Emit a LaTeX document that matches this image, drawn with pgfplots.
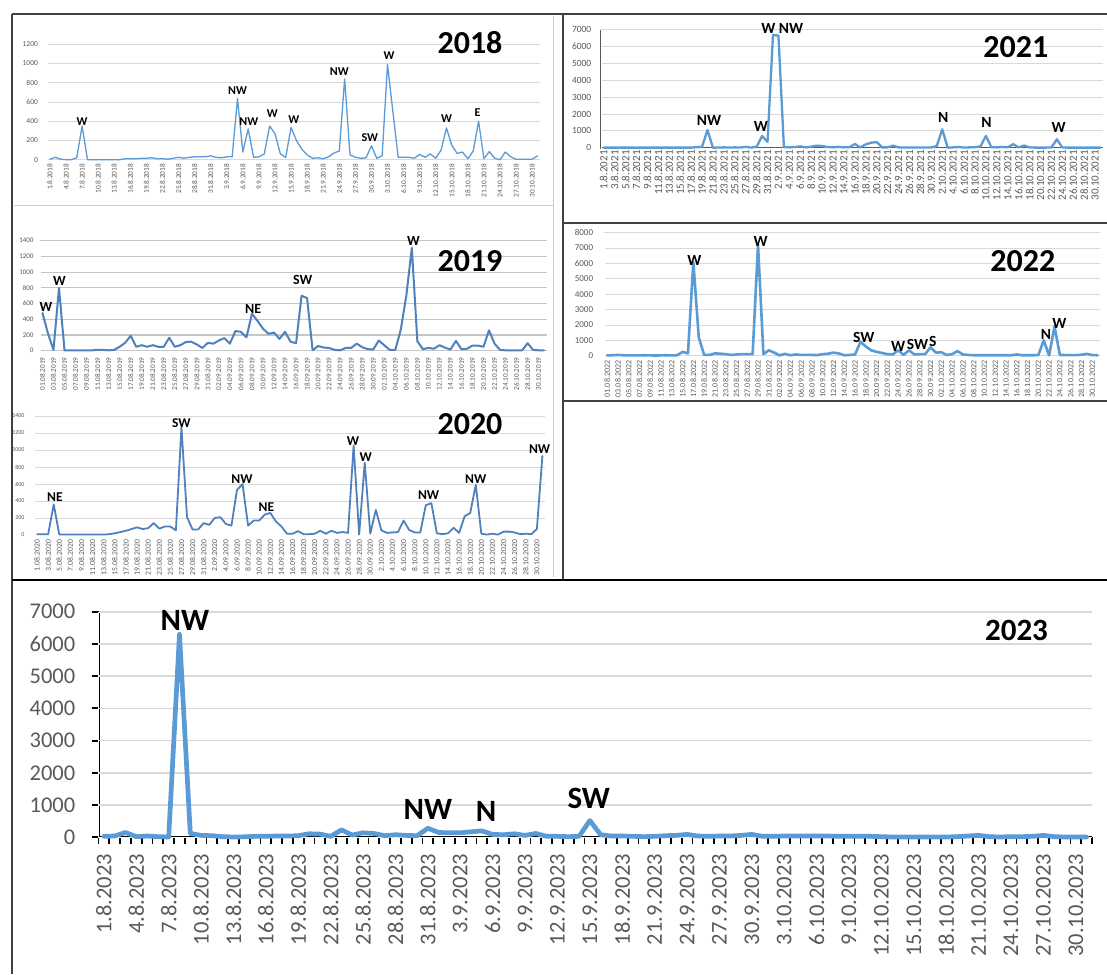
\documentclass[border=0pt]{standalone}
\usepackage{pgfplots}
\pgfplotsset{compat=1.18}
\usepackage{fontspec}
\setmainfont{Carlito}

\definecolor{gridc}{HTML}{D9D9D9}
\definecolor{labc}{HTML}{595959}
\definecolor{exblue}{HTML}{5B9BD5}
\definecolor{exdark}{HTML}{4F81BD}
\definecolor{framec}{HTML}{404040}

\newcommand\fs[1]{\fontsize{#1}{#1}\selectfont}

\pgfplotsset{
  panel/.style={
    scale only axis, clip=false, anchor=south west,
    xmin=-0.5, xmax=91.5, ymin=0,
    axis x line*=bottom, axis y line*=left, separate axis lines,
    axis line style={white, line width=0.1pt, -},
    tick align=outside, major tick length=0.5pt, minor tick length=0.5pt,
    tick style={white, line width=0.1pt},
    ymajorgrids, grid style={draw=gridc, line width=0.9pt},
    scaled y ticks=false,
    /pgf/number format/1000 sep={},
    /pgf/number format/assume math mode=true,
    tick label style={text=labc, inner sep=0pt},
    x tick label style={rotate=90, anchor=east},
    y tick label style={anchor=east},
  },
  % grid without the line at 0, which the dark base line replaces
  nozero/.style={
    ytick={#1}, extra y ticks={0}, extra y tick style={grid=none},
  },
}
\tikzset{
  ser/.style={mark=none, line join=round, line cap=round},
  ann/.style={font=\bfseries\fs{#1}, inner sep=0pt},
}

\begin{document}
\begin{tikzpicture}
\path[use as bounding box, fill=white] (0pt,0pt) rectangle (1107pt,-974pt);

\begin{scope}[x=1pt, y=-1pt]
% panel frames
\draw[gray!40, line width=1pt] (14,205) -- (553,205) (553,16) -- (553,577);
\draw[framec, line width=1.5pt] (12,14) -- (1107,14) (12,14) -- (12,974)
  (563,14) -- (563,580) (563,223) -- (1107,223) (563,401) -- (1107,401);
\draw[black, line width=2.5pt] (12,580) -- (1107,580);
% axis lines of 2021 and 2023 (under the series)
\draw[labc, line width=1.8pt] (601,147.7) -- (1103.3,147.7);
\draw[labc, line width=1.6pt] (601,29.8) -- (601,148.5);
\draw[black, line width=2pt] (98.5,837.3) -- (1092,837.3);
\draw[black, line width=2pt] (98.5,611.7) -- (98.5,838.3);
\foreach \k in {0,...,92}
  \draw[black, line width=1.8pt] ({98.5+10.7989*\k},837.3) -- ++(0,7);
\foreach \v in {0,...,7}
  \draw[black, line width=1.8pt] (91.5,{837.3-32.2286*\v}) -- (98.5,{837.3-32.2286*\v});
\end{scope}

% ---------------- 2018
\begin{axis}[panel, at={(47.3pt,-159.7pt)}, width=492.9pt, height=115.4pt,
  ymax=1200, ytick={0,200,...,1200},
  xtick={0,3,...,90},
  xticklabels={1.8.2018,4.8.2018,7.8.2018,10.8.2018,13.8.2018,16.8.2018,19.8.2018,
    22.8.2018,25.8.2018,28.8.2018,31.8.2018,3.9.2018,6.9.2018,9.9.2018,12.9.2018,
    15.9.2018,18.9.2018,21.9.2018,24.9.2018,27.9.2018,30.9.2018,3.10.2018,6.10.2018,
    9.10.2018,12.10.2018,15.10.2018,18.10.2018,21.10.2018,24.10.2018,27.10.2018,30.10.2018},
  x tick label style={font=\fs{7.3}}, y tick label style={font=\fs{7.5}},
  xticklabel shift=3.6pt, yticklabel shift=8.7pt]
\addplot[ser, exblue, line width=1.3pt] coordinates {
(0,5)(1,25)(2,5)(3,0)(4,0)(5,20)(6,350)(7,0)(8,0)(9,0)(10,0)(11,0)(12,0)(13,0)
(14,10)(15,10)(16,10)(17,15)(18,15)(19,20)(20,10)(21,10)(22,5)(23,15)(24,25)(25,15)
(26,25)(27,30)(28,30)(29,30)(30,40)(31,25)(32,20)(33,30)(34,30)(35,635)(36,80)(37,320)
(38,25)(39,30)(40,60)(41,350)(42,270)(43,60)(44,25)(45,335)(46,200)(47,110)(48,50)
(49,15)(50,20)(51,10)(52,30)(53,70)(54,90)(55,840)(56,50)(57,25)(58,15)(59,20)(60,145)
(61,15)(62,40)(63,990)(64,500)(65,25)(66,25)(67,25)(68,15)(69,55)(70,25)(71,60)(72,15)
(73,100)(74,330)(75,150)(76,65)(77,80)(78,10)(79,90)(80,400)(81,10)(82,85)(83,15)
(84,0)(85,80)(86,30)(87,5)(88,5)(89,5)(90,5)(91,40)};
\node[ann=12] at (axis cs:6.0,395) {W};
\node[ann=12] at (axis cs:35.0,718) {NW};
\node[ann=12] at (axis cs:37.1,395) {NW};
\node[ann=12] at (axis cs:41.5,482) {W};
\node[ann=12] at (axis cs:45.5,420) {W};
\node[ann=12] at (axis cs:54.0,916) {NW};
\node[ann=12] at (axis cs:59.7,229) {SW};
\node[ann=12] at (axis cs:63.3,1079) {W};
\node[ann=12] at (axis cs:74.0,427) {W};
\node[ann=12] at (axis cs:79.8,489) {E};
\end{axis}

% ---------------- 2019
\begin{axis}[panel, at={(39.7pt,-350.7pt)}, width=507.2pt, height=110pt,
  ymax=1400, ytick={0,200,...,1400},
  grid style={draw=gray!45, line width=1.2pt},
  xtick={0,2,...,90},
  xticklabels={01.08.2019,03.08.2019,05.08.2019,07.08.2019,09.08.2019,11.08.2019,
    13.08.2019,15.08.2019,17.08.2019,19.08.2019,21.08.2019,23.08.2019,25.08.2019,
    27.08.2019,29.08.2019,31.08.2019,02.09.2019,04.09.2019,06.09.2019,08.09.2019,
    10.09.2019,12.09.2019,14.09.2019,16.09.2019,18.09.2019,20.09.2019,22.09.2019,
    24.09.2019,26.09.2019,28.09.2019,30.09.2019,02.10.2019,04.10.2019,06.10.2019,
    08.10.2019,10.10.2019,12.10.2019,14.10.2019,16.10.2019,18.10.2019,20.10.2019,
    22.10.2019,24.10.2019,26.10.2019,28.10.2019,30.10.2019},
  x tick label style={font=\fs{7.2}}, y tick label style={font=\fs{7}},
  xticklabel shift=6pt, yticklabel shift=5.5pt]
\addplot[ser, exdark, line width=2pt] coordinates {
(0,480)(1,220)(2,10)(3,800)(4,5)(5,5)(6,5)(7,5)(8,5)(9,5)(10,10)(11,10)(12,5)(13,10)
(14,50)(15,100)(16,190)(17,50)(18,70)(19,50)(20,70)(21,50)(22,50)(23,165)(24,50)(25,70)
(26,110)(27,115)(28,80)(29,35)(30,100)(31,90)(32,130)(33,160)(34,90)(35,250)(36,240)
(37,170)(38,470)(39,380)(40,280)(41,215)(42,230)(43,150)(44,240)(45,115)(46,95)(47,700)
(48,670)(49,5)(50,60)(51,40)(52,35)(53,10)(54,5)(55,35)(56,35)(57,90)(58,45)(59,20)
(60,15)(61,130)(62,70)(63,10)(64,10)(65,270)(66,700)(67,1310)(68,120)(69,20)(70,35)
(71,25)(72,70)(73,40)(74,15)(75,125)(76,20)(77,25)(78,65)(79,65)(80,50)(81,260)(82,90)
(83,10)(84,5)(85,5)(86,5)(87,5)(88,95)(89,10)(90,5)(91,5)};
\node[ann=14] at (axis cs:0.65,551) {W};
\node[ann=14] at (axis cs:3.07,882) {W};
\node[ann=14] at (axis cs:38.2,530) {NE};
\node[ann=14] at (axis cs:47.2,899) {SW};
\node[ann=14] at (axis cs:67.3,1400) {W};
\end{axis}

% ---------------- 2020
\begin{axis}[panel, at={(34.3pt,-535pt)}, width=510.9pt, height=119pt,
  ymax=1400, ytick={0,200,...,1400},
  xtick={0,2,...,90},
  xticklabels={1.08.2020,3.08.2020,5.08.2020,7.08.2020,9.08.2020,11.08.2020,
    13.08.2020,15.08.2020,17.08.2020,19.08.2020,21.08.2020,23.08.2020,25.08.2020,
    27.08.2020,29.08.2020,31.08.2020,2.09.2020,4.09.2020,6.09.2020,8.09.2020,
    10.09.2020,12.09.2020,14.09.2020,16.09.2020,18.09.2020,20.09.2020,22.09.2020,
    24.09.2020,26.09.2020,28.09.2020,30.09.2020,2.10.2020,4.10.2020,6.10.2020,
    8.10.2020,10.10.2020,12.10.2020,14.10.2020,16.10.2020,18.10.2020,20.10.2020,
    22.10.2020,24.10.2020,26.10.2020,28.10.2020,30.10.2020},
  x tick label style={font=\fs{7.7}}, y tick label style={font=\fs{6}},
  xticklabel shift=4.3pt, yticklabel shift=9.1pt]
\addplot[ser, exdark, line width=1.8pt] coordinates {
(0,10)(1,10)(2,10)(3,360)(4,5)(5,5)(6,5)(7,5)(8,5)(9,5)(10,5)(11,5)(12,5)(13,10)
(14,20)(15,35)(16,50)(17,70)(18,90)(19,70)(20,80)(21,140)(22,75)(23,100)(24,100)(25,55)
(26,1270)(27,210)(28,65)(29,65)(30,140)(31,120)(32,200)(33,210)(34,130)(35,110)(36,530)
(37,600)(38,110)(39,170)(40,170)(41,240)(42,260)(43,160)(44,100)(45,15)(46,15)(47,45)
(48,10)(49,10)(50,15)(51,50)(52,15)(53,50)(54,25)(55,35)(56,25)(57,1050)(58,5)(59,850)
(60,15)(61,295)(62,55)(63,25)(64,30)(65,35)(66,170)(67,60)(68,30)(69,30)(70,350)(71,375)
(72,20)(73,10)(74,20)(75,85)(76,25)(77,220)(78,260)(79,590)(80,15)(81,5)(82,15)(83,5)
(84,40)(85,40)(86,30)(87,10)(88,15)(89,10)(90,70)(91,930)};
\node[ann=13.5] at (axis cs:3.2,443) {NE};
\node[ann=13.5] at (axis cs:26.0,1314) {SW};
\node[ann=13.5] at (axis cs:36.9,655) {NW};
\node[ann=13.5] at (axis cs:41.3,333) {NE};
\node[ann=13.5] at (axis cs:56.9,1110) {W};
\node[ann=13.5] at (axis cs:59.2,914) {W};
\node[ann=13.5] at (axis cs:70.5,471) {NW};
\node[ann=13.5] at (axis cs:79.0,659) {NW};
\node[ann=13.5] at (axis cs:90.5,1012) {NW};
\end{axis}

% ---------------- 2021
\begin{axis}[panel, at={(601pt,-147.7pt)}, width=502.3pt, height=117.9pt,
  ymax=7000, nozero={1000,2000,...,7000},
  xtick={0,2,...,90},
  xticklabels={1.8.2021,3.8.2021,5.8.2021,7.8.2021,9.8.2021,11.8.2021,13.8.2021,
    15.8.2021,17.8.2021,19.8.2021,21.8.2021,23.8.2021,25.8.2021,27.8.2021,29.8.2021,
    31.8.2021,2.9.2021,4.9.2021,6.9.2021,8.9.2021,10.9.2021,12.9.2021,14.9.2021,
    16.9.2021,18.9.2021,20.9.2021,22.9.2021,24.9.2021,26.9.2021,28.9.2021,30.9.2021,
    2.10.2021,4.10.2021,6.10.2021,8.10.2021,10.10.2021,12.10.2021,14.10.2021,
    16.10.2021,18.10.2021,20.10.2021,22.10.2021,24.10.2021,26.10.2021,28.10.2021,30.10.2021},
  x tick label style={font=\fs{11}}, y tick label style={font=\fs{9.5}},
  xticklabel shift=2pt, yticklabel shift=9pt]
\addplot[ser, exblue, line width=2.3pt] coordinates {
(0,5)(1,5)(2,5)(3,5)(4,5)(5,5)(6,5)(7,5)(8,5)(9,5)(10,5)(11,5)(12,5)(13,5)(14,5)(15,5)
(16,5)(17,30)(18,50)(19,1050)(20,0)(21,10)(22,20)(23,10)(24,20)(25,10)(26,50)(27,10)
(28,50)(29,690)(30,350)(31,6700)(32,6650)(33,30)(34,20)(35,40)(36,80)(37,20)(38,60)
(39,120)(40,100)(41,40)(42,20)(43,50)(44,20)(45,30)(46,220)(47,20)(48,200)(49,300)
(50,330)(51,20)(52,20)(53,120)(54,20)(55,10)(56,10)(57,10)(58,10)(59,10)(60,10)(61,100)
(62,1090)(63,0)(64,20)(65,40)(66,10)(67,20)(68,30)(69,80)(70,700)(71,30)(72,20)(73,50)
(74,20)(75,210)(76,20)(77,130)(78,20)(79,5)(80,5)(81,5)(82,20)(83,500)(84,10)(85,5)
(86,5)(87,5)(88,5)(89,5)(90,5)(91,5)};
\node[ann=15.5] at (axis cs:19.3,1645) {NW};
\node[ann=15.5] at (axis cs:28.8,1247) {W};
\node[ann=15.5] at (axis cs:32.7,7089) {W NW};
\node[ann=15.5] at (axis cs:62.2,1805) {N};
\node[ann=15.5] at (axis cs:70.1,1484) {N};
\node[ann=15.5] at (axis cs:83.3,1211) {W};
\end{axis}

% ---------------- 2022
\begin{axis}[panel, at={(604.4pt,-355.7pt)}, width=495.9pt, height=123pt,
  ymax=8000, ytick={0,1000,...,8000},
  xtick={0,2,...,90},
  xticklabels={01.08.2022,03.08.2022,05.08.2022,07.08.2022,09.08.2022,11.08.2022,
    13.08.2022,15.08.2022,17.08.2022,19.08.2022,21.08.2022,23.08.2022,25.08.2022,
    27.08.2022,29.08.2022,31.08.2022,02.09.2022,04.09.2022,06.09.2022,08.09.2022,
    10.09.2022,12.09.2022,14.09.2022,16.09.2022,18.09.2022,20.09.2022,22.09.2022,
    24.09.2022,26.09.2022,28.09.2022,30.09.2022,02.10.2022,04.10.2022,06.10.2022,
    08.10.2022,10.10.2022,12.10.2022,14.10.2022,16.10.2022,18.10.2022,20.10.2022,
    22.10.2022,24.10.2022,26.10.2022,28.10.2022,30.10.2022},
  x tick label style={font=\fs{8}}, y tick label style={font=\fs{9}},
  xticklabel shift=4.3pt, yticklabel shift=10.6pt]
\addplot[ser, exblue, line width=2.6pt] coordinates {
(0,20)(1,30)(2,50)(3,30)(4,20)(5,20)(6,20)(7,30)(8,20)(9,10)(10,20)(11,30)(12,20)(13,30)
(14,250)(15,150)(16,6100)(17,1200)(18,50)(19,50)(20,150)(21,130)(22,100)(23,50)(24,80)
(25,100)(26,100)(27,100)(28,7200)(29,100)(30,350)(31,200)(32,20)(33,120)(34,30)(35,80)
(36,50)(37,50)(38,50)(39,40)(40,100)(41,130)(42,200)(43,150)(44,30)(45,50)(46,80)
(47,900)(48,600)(49,350)(50,250)(51,180)(52,100)(53,80)(54,350)(55,50)(56,350)(57,80)
(58,100)(59,100)(60,550)(61,200)(62,220)(63,50)(64,100)(65,300)(66,80)(67,50)(68,30)
(69,30)(70,30)(71,30)(72,30)(73,30)(74,30)(75,30)(76,80)(77,30)(78,30)(79,30)(80,40)
(81,1000)(82,20)(83,1900)(84,50)(85,40)(86,40)(87,40)(88,60)(89,120)(90,40)(91,30)};
\node[ann=15.5] at (axis cs:16.2,6222) {W};
\node[ann=15.5] at (axis cs:28.5,7415) {W};
\node[ann=15.5] at (axis cs:47.6,1171) {SW};
\node[ann=15.5] at (axis cs:54.0,629) {W};
\node[ann=15.5] at (axis cs:57.6,759) {SW};
\node[ann=15.5] at (axis cs:60.4,911) {S};
\node[ann=15.5] at (axis cs:81.4,1409) {N};
\node[ann=15.5] at (axis cs:83.9,2103) {W};
\end{axis}

% ---------------- 2023
\begin{axis}[panel, at={(98.5pt,-837.3pt)}, width=993.5pt, height=225.6pt,
  ymax=7000, nozero={1000,2000,...,7000},
  grid style={draw=gridc, line width=1.7pt},
  xtick={0,3,...,90},
  xticklabels={1.8.2023,4.8.2023,7.8.2023,10.8.2023,13.8.2023,16.8.2023,19.8.2023,
    22.8.2023,25.8.2023,28.8.2023,31.8.2023,3.9.2023,6.9.2023,9.9.2023,12.9.2023,
    15.9.2023,18.9.2023,21.9.2023,24.9.2023,27.9.2023,30.9.2023,3.10.2023,6.10.2023,
    9.10.2023,12.10.2023,15.10.2023,18.10.2023,21.10.2023,24.10.2023,27.10.2023,30.10.2023},
  x tick label style={font=\fs{22.5}}, y tick label style={font=\fs{22.5}},
  xticklabel shift=16pt, yticklabel shift=22.5pt]
\addplot[ser, exblue, line width=4.7pt] coordinates {
(0,30)(1,40)(2,150)(3,20)(4,40)(5,20)(6,10)(7,6300)(8,120)(9,60)(10,50)(11,20)(12,10)
(13,15)(14,30)(15,30)(16,40)(17,40)(18,50)(19,110)(20,100)(21,30)(22,230)(23,70)(24,140)
(25,120)(26,50)(27,80)(28,60)(29,50)(30,280)(31,150)(32,140)(33,140)(34,170)(35,200)
(36,90)(37,80)(38,110)(39,60)(40,120)(41,30)(42,30)(43,20)(44,30)(45,520)(46,80)(47,40)
(48,40)(49,30)(50,20)(51,30)(52,50)(53,60)(54,90)(55,40)(56,30)(57,40)(58,40)(59,60)
(60,90)(61,30)(62,30)(63,40)(64,40)(65,40)(66,40)(67,40)(68,30)(69,30)(70,30)(71,30)
(72,20)(73,10)(74,10)(75,10)(76,10)(77,10)(78,10)(79,20)(80,40)(81,60)(82,20)(83,10)
(84,20)(85,20)(86,30)(87,60)(88,20)(89,10)(90,10)(91,10)};
\node[ann=31] at (axis cs:7.5,6743) {NW};
\node[ann=31] at (axis cs:30.0,869) {NW};
\node[ann=31] at (axis cs:35.4,816) {N};
\node[ann=31] at (axis cs:44.9,1210) {SW};
\end{axis}

\begin{scope}[x=1pt, y=-1pt]
\node[ann=32] at (470,43) {2018};
\node[ann=32] at (470,261) {2019};
\node[ann=32] at (470,424) {2020};
\node[ann=32] at (1015.8,46.7) {2021};
\node[ann=32] at (1022.8,261.2) {2022};
\node[ann=31] at (1016.5,630) {2023};
\end{scope}
\end{tikzpicture}
\end{document}
